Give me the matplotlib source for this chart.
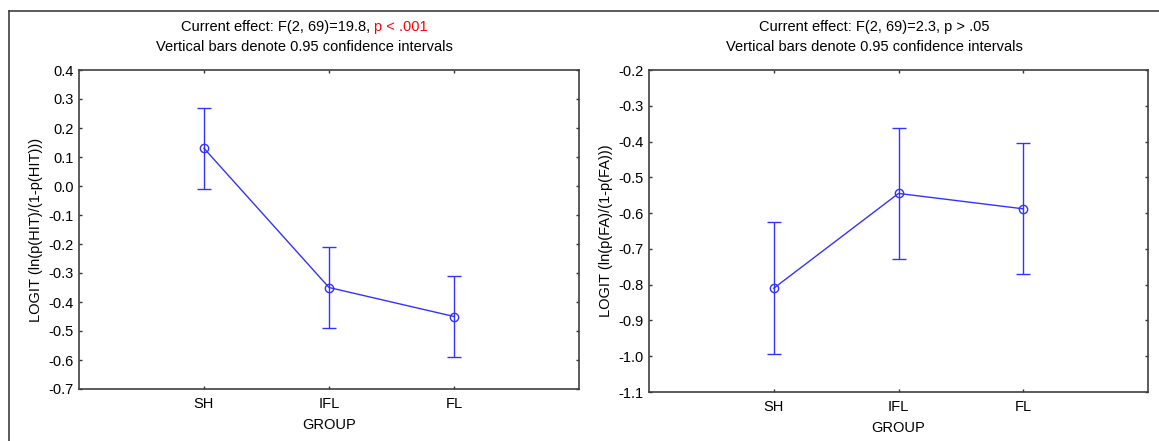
import matplotlib
matplotlib.use('Agg')
import matplotlib.pyplot as plt
from matplotlib.lines import Line2D

plt.rcParams['font.family'] = ['Liberation Sans', 'DejaVu Sans']
plt.rcParams['font.size'] = 10.5

# Data
groups = ['SH', 'IFL', 'FL']

hit_means = [0.13, -0.35, -0.45]
hit_lower = [-0.01, -0.49, -0.59]
hit_upper = [0.27, -0.21, -0.31]

fa_means = [-0.81, -0.545, -0.588]
fa_lower = [-0.993, -0.729, -0.77]
fa_upper = [-0.626, -0.362, -0.403]

left_title = ['Current effect: F(2, 69)=19.8, ', 'p < .001']
right_title = ['Current effect: F(2, 69)=2.3, p > .05', '']
subtitle = 'Vertical bars denote 0.95 confidence intervals'

W, H = 1159, 441
fig = plt.figure(figsize=(W / 100, H / 100), dpi=100)

# outer frame lines (top and left only)
fig.add_artist(Line2D([9 / W, 1.0], [1 - 10.5 / H, 1 - 10.5 / H], color='#404040', lw=1.2))
fig.add_artist(Line2D([9 / W, 9 / W], [0.0, 1 - 10.5 / H], color='#404040', lw=1.2))

ax1 = fig.add_axes([79 / W, 52 / H, 500 / W, 319 / H])
ax2 = fig.add_axes([649 / W, 49 / H, 499 / W, 322 / H])

blue = '#3333ff'
x = [1, 2, 3]


def draw_panel(ax, means, lower, upper, ylim, yticks, ylabel):
    yerr = [[m - lo for m, lo in zip(means, lower)],
            [hi - m for m, hi in zip(means, upper)]]
    ax.errorbar(x, means, yerr=yerr, color=blue, lw=1.0, elinewidth=1.0,
                capsize=4.9, capthick=1.0, marker='o', markersize=6,
                markerfacecolor='none', markeredgecolor=blue, markeredgewidth=1.0)
    ax.set_xlim(0, 4)
    ax.set_ylim(*ylim)
    ax.set_xticks(x)
    ax.set_xticklabels(groups)
    ax.set_yticks(yticks)
    ax.set_yticklabels(['%.1f' % t for t in yticks])
    ax.tick_params(direction='in', length=2.5, width=1, color='#333333',
                   top=True, right=True, labelsize=10.5, pad=4)
    ax.tick_params(axis='x', pad=6)
    for s in ax.spines.values():
        s.set_color('#404040')
        s.set_linewidth(1.2)
    ax.set_xlabel('GROUP', fontsize=10.5, labelpad=5)
    ax.set_ylabel(ylabel, fontsize=10.5, labelpad=4)


draw_panel(ax1, hit_means, hit_lower, hit_upper, (-0.7, 0.4),
           [0.4 - 0.1 * i for i in range(12)], 'LOGIT (ln(p(HIT)/(1-p(HIT)))')
draw_panel(ax2, fa_means, fa_lower, fa_upper, (-1.1, -0.2),
           [-0.2 - 0.1 * i for i in range(10)], 'LOGIT (ln(p(FA)/(1-p(FA)))')

# titles, with the red part placed after the black part
fig.canvas.draw()
renderer = fig.canvas.get_renderer()
for cx, parts in [(304 / W, left_title), (874 / W, right_title)]:
    t1 = fig.text(cx, 1 - 27 / H, parts[0], ha='left', va='center', fontsize=10.5)
    t2 = fig.text(cx, 1 - 27 / H, parts[1], ha='left', va='center', fontsize=10.5, color='red')
    w1 = t1.get_window_extent(renderer).width
    w2 = t2.get_window_extent(renderer).width if parts[1] else 0
    start = cx * W - (w1 + w2) / 2
    t1.set_x(start / W)
    t2.set_x((start + w1) / W)
    fig.text(cx, 1 - 47 / H, subtitle, ha='center', va='center', fontsize=10.5)

plt.savefig('out.png', dpi=100)
